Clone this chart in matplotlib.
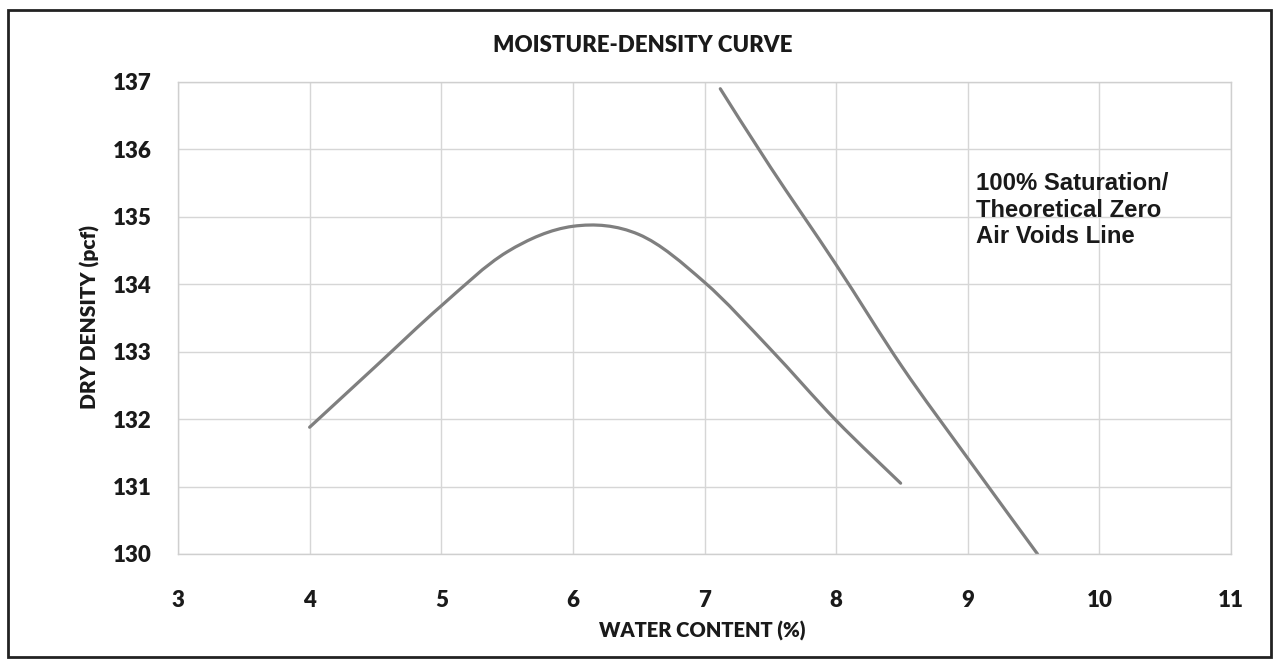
import matplotlib
matplotlib.use("Agg")
import matplotlib.pyplot as plt
import numpy as np
from matplotlib.patches import Rectangle, PathPatch
from matplotlib.path import Path

# moisture-density (compaction) curve
water = [4.0, 4.5, 5.0, 5.5, 6.0, 6.5, 7.0, 7.5, 8.0, 8.49]
density = [131.88, 132.78, 133.68, 134.48, 134.86, 134.74, 134.03, 133.04, 131.98, 131.05]

# zero air voids line
zav_water = [7.12, 7.5, 8.0, 8.5, 9.0, 9.53]
zav_density = [136.9, 135.74, 134.29, 132.78, 131.42, 130.0]

x_ticks = [3, 4, 5, 6, 7, 8, 9, 10, 11]
y_ticks = [130, 131, 132, 133, 134, 135, 136, 137]

line_col = "#7f7f7f"
text_col = "#1a1a1a"


def smooth_line(ax, xs, ys, **kw):
    # Excel-style smoothed line: catmull-rom segments drawn as bezier curves
    p = np.column_stack([xs, ys])
    verts = [p[0]]
    codes = [Path.MOVETO]
    n = len(p)
    for i in range(n - 1):
        p0 = p[max(i - 1, 0)]
        p1 = p[i]
        p2 = p[i + 1]
        p3 = p[min(i + 2, n - 1)]
        verts += [p1 + (p2 - p0) / 6, p2 - (p3 - p1) / 6, p2]
        codes += [Path.CURVE4] * 3
    ax.add_patch(PathPatch(Path(verts, codes), fill=False, **kw))


fig = plt.figure(figsize=(12.75, 6.61), dpi=100)
ax = fig.add_axes([178 / 1275, 1 - 554 / 661, 1053 / 1275, 472 / 661])

smooth_line(ax, water, density, edgecolor=line_col, lw=2.3, capstyle="round")
smooth_line(ax, zav_water, zav_density, edgecolor=line_col, lw=2.3, capstyle="round")

ax.set_xlim(3, 11)
ax.set_ylim(130, 137)
ax.set_xticks(x_ticks)
ax.set_yticks(y_ticks)
ax.grid(True, color="#d6d6d6", lw=1.0)
ax.set_axisbelow(True)
for s in ax.spines.values():
    s.set_color("#cfcfcf")
    s.set_linewidth(1.0)

ax.tick_params(length=0, labelsize=16, labelcolor=text_col)
ax.tick_params(axis="x", pad=26)
ax.tick_params(axis="y", pad=19)
for lab in ax.get_xticklabels() + ax.get_yticklabels():
    lab.set_fontfamily("Lato")
    lab.set_fontweight("heavy")

ax.text(9.06, 135.66, "100% Saturation/\nTheoretical Zero\nAir Voids Line",
        family="Liberation Sans", weight="bold", fontsize=17.2, color=text_col,
        va="top", ha="left", linespacing=1.18)

fig.text(643 / 1275, 1 - 45 / 661, "MOISTURE-DENSITY CURVE", family="Lato",
         weight="heavy", fontsize=16, color=text_col, ha="center", va="center")
fig.text(702 / 1275, 1 - 631 / 661, "WATER CONTENT (%)", family="Lato",
         weight="heavy", fontsize=14.5, color=text_col, ha="center", va="center")
fig.text(90 / 1275, 1 - 317 / 661, "DRY DENSITY (pcf)", family="Lato",
         weight="heavy", fontsize=15, color=text_col, ha="center", va="center",
         rotation=90)

# outer border of the chart area
fig.patches.append(Rectangle((8 / 1275, 1 - 657 / 661), 1263 / 1275, 647 / 661,
                             transform=fig.transFigure, fill=False,
                             edgecolor="#222222", lw=2.0))

fig.savefig("out.png", dpi=100, facecolor="white")
